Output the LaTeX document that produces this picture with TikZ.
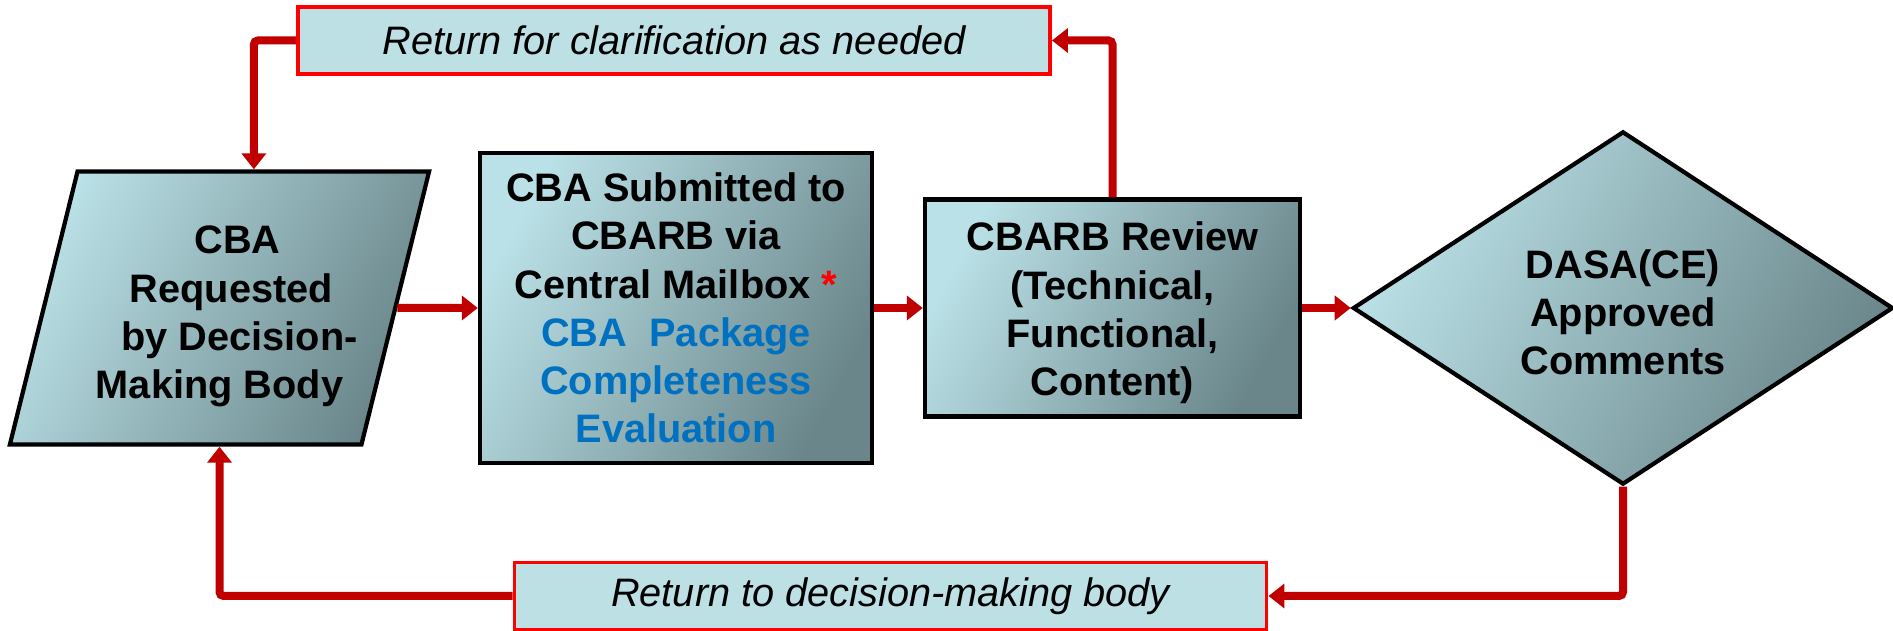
\documentclass[tikz,border=0pt]{standalone}
\usepackage{fontspec}
\setmainfont{Liberation Sans}
\usetikzlibrary{positioning}
\usetikzlibrary{calc}
\usetikzlibrary{arrows.meta,shapes.geometric}

\definecolor{boxlight}{RGB}{186,225,231}
\definecolor{boxdark}{RGB}{106,134,138}
\definecolor{fblight}{RGB}{188,224,228}
\definecolor{fbred}{RGB}{255,0,0}
\definecolor{arrowred}{RGB}{192,0,0}
\definecolor{textblue}{RGB}{0,112,192}

\tikzset{
stepshape/.style={draw=black, line width=1.2pt, left color=boxlight, right color=boxdark, shading angle=62, align=center, inner sep=1pt, font=\fontsize{11.3}{13.7}\selectfont\bfseries},
fbbox/.style={draw=fbred, line width=1pt, fill=fblight, minimum width=7.52cm, minimum height=0.67cm, font=\fontsize{11.3}{13.7}\selectfont\itshape},
flow/.style={draw=arrowred, line width=0.08cm, rounded corners=0.04cm, -{Triangle[length=0.16cm,width=0.24cm]}},
}

\begin{document}
\begin{tikzpicture}[x=0.01cm, y=-0.01cm]
\useasboundingbox (0,0) rectangle (1893,631);

\node[stepshape, trapezium, trapezium left angle=71.7, trapezium right angle=108.3, trapezium stretches body, minimum width=4.19cm, minimum height=2.73cm](req) at (219.5,308){\hspace*{0.36cm}\rule{0pt}{12.7pt}CBA\\\hspace*{0.24cm}Requested\\\hspace*{0.4cm}by Decision-\\Making Body};
\node[stepshape, rectangle, minimum width=3.92cm, minimum height=3.10cm](sub) at (676,308){CBA Submitted to\\CBARB via\\Central Mailbox {\color{fbred}*}\\{\color{textblue}CBA~~Package}\\{\color{textblue}Completeness}\\{\color{textblue}Evaluation}};
\node[stepshape, rectangle, minimum width=3.75cm, minimum height=2.17cm](rev) at (1112.5,308){\rule{0pt}{11pt}CBARB Review\\(Technical,\\Functional,\\Content)};
\node[stepshape, diamond, minimum width=5.40cm, minimum height=3.53cm](dasa) at (1623,308){\rule{0pt}{10.5pt}DASA(CE)\\Approved\\Comments};
\node[fbbox](clar) at (674,40.5){Return for clarification as needed};
\node[fbbox](ret) at (890.5,596){Return to decision-making body};

\path
(req.east) edge[flow] (sub.west)
(sub.east) edge[flow] (rev.west)
(rev.east) edge[flow] (dasa.west)
(rev.north) edge[flow, to path={|- (\tikztotarget)}] (clar.east)
(clar.west) edge[flow, to path={-| (\tikztotarget)}] (req.top side)
(dasa.south) edge[flow, to path={|- (\tikztotarget)}] (ret.east)
(ret.west) edge[flow, to path={-| (\tikztotarget)}] (req.south);
\end{tikzpicture}
\end{document}
